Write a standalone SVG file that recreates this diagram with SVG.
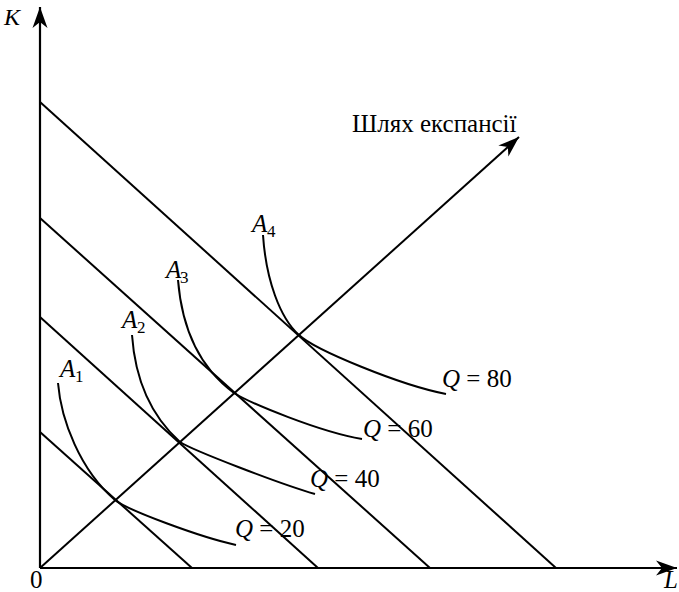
<svg xmlns="http://www.w3.org/2000/svg" width="679" height="592" viewBox="0 0 679 592">
<style>
.ln{stroke:#000;stroke-width:2;fill:none}
.ax{stroke:#000;stroke-width:2.2;fill:none}
.cv{stroke:#000;stroke-width:2;fill:none}
text{font-family:"Liberation Serif","Times New Roman",serif;fill:#000;font-size:25px}
.it{font-style:italic}
.sub{font-size:17px}
</style>
<defs>
<marker id="arr" viewBox="-22 -8 24 16" markerWidth="24" markerHeight="16" refX="0" refY="0" orient="auto" markerUnits="userSpaceOnUse">
<path d="M0,0 L-21,-7.5 L-15,0 L-21,7.5 Z" fill="#000"/>
</marker>
</defs>
<g id="axes">
<line class="ax" x1="40" y1="568" x2="40" y2="7" marker-end="url(#arr)"/>
<line class="ax" x1="40" y1="568" x2="677" y2="568" marker-end="url(#arr)"/>
<text x="4" y="25" class="it" style="font-size:24px">K</text>
<text x="30" y="588">0</text>
<text x="664" y="588" class="it">L</text>
</g>
<g id="connectors">
<line class="ln" x1="40" y1="432" x2="192" y2="568"/>
<line class="ln" x1="40" y1="317" x2="318" y2="568"/>
<line class="ln" x1="40" y1="218" x2="430" y2="568"/>
<line class="ln" x1="40" y1="102" x2="556" y2="568"/>
<line class="ln" x1="40" y1="568" x2="519" y2="137" marker-end="url(#arr)"/>
</g>
<g id="expansion-label">
<text x="352" y="132">Шлях експансії</text>
</g>
<g id="A1">
<path class="cv" d="M58,383 C61,420 80,470 115,500 C127,510 200,537 236,545"/>
<text x="60" y="377" class="it">A</text><text x="75" y="382" class="sub">1</text>
<text x="235" y="537"><tspan class="it">Q</tspan> = 20</text>
</g>
<g id="A2">
<path class="cv" d="M132,335 C135,378 150,415 180,442 C192,450 280,484 315,494"/>
<text x="122" y="328" class="it">A</text><text x="137" y="333" class="sub">2</text>
<text x="310" y="487"><tspan class="it">Q</tspan> = 40</text>
</g>
<g id="A3">
<path class="cv" d="M178,280 C182,330 200,368 234,393 C250,403 320,432 362,439"/>
<text x="166" y="278" class="it">A</text><text x="180" y="283" class="sub">3</text>
<text x="363" y="437"><tspan class="it">Q</tspan> = 60</text>
</g>
<g id="A4">
<path class="cv" d="M263,235 C266,280 280,318 299,335 C315,350 400,385 446,394"/>
<text x="252" y="232" class="it">A</text><text x="267" y="237" class="sub">4</text>
<text x="442" y="387"><tspan class="it">Q</tspan> = 80</text>
</g>
</svg>
